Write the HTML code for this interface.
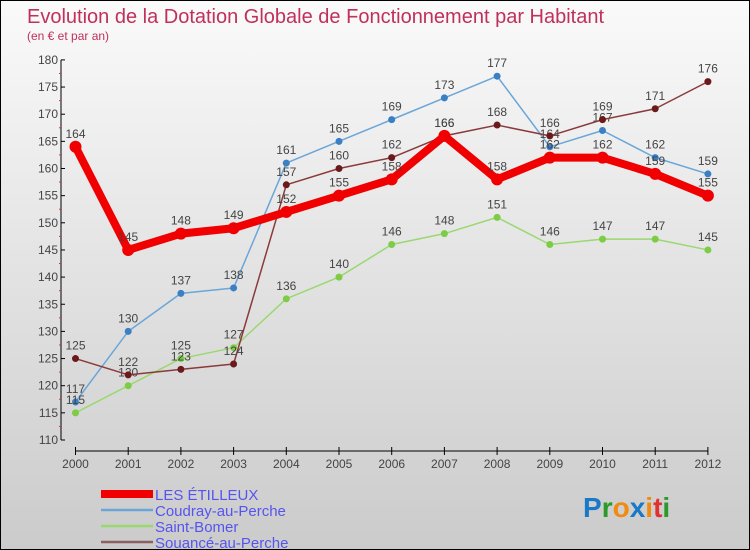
<!DOCTYPE html>
<html><head><meta charset="utf-8"><style>
body{margin:0}
#c{width:748px;height:548px;border:1px solid #000;background:linear-gradient(#fafafa,#cbcbcb);position:relative;font-family:"Liberation Sans",sans-serif;overflow:hidden}
</style></head><body>
<div id="c">
<svg id="s" width="748" height="548" xmlns="http://www.w3.org/2000/svg">
<text x="26" y="22" font-size="20" fill="#c0305a">Evolution de la Dotation Globale de Fonctionnement par Habitant</text>
<text x="26" y="39" font-size="12" fill="#c0305a">(en € et par an)</text>
</svg></div>
<script>
const years=["2000","2001","2002","2003","2004","2005","2006","2007","2008","2009","2010","2011","2012"];
const etilleux=[164,145,148,149,152,155,158,166,158,162,162,159,155];
const coudray=[117,130,137,138,161,165,169,173,177,164,167,162,159];
const bomer=[115,120,125,127,136,140,146,148,151,146,147,147,145];
const souance=[125,122,123,124,157,160,162,166,168,166,169,171,176];
const yTicks=[110,115,120,125,130,135,140,145,150,155,160,165,170,175,180];
const seriesNames=["LES ÉTILLEUX","Coudray-au-Perche","Saint-Bomer","Souancé-au-Perche"];
const NS="http://www.w3.org/2000/svg",s=document.getElementById('s');
const X=i=>74.5+i*52.7, Y=v=>439-(v-110)*5.43;
function el(t,a,p){const e=document.createElementNS(NS,t);for(const k in a)e.setAttribute(k,a[k]);(p||s).appendChild(e);return e;}
let ax=el('line',{x1:60,y1:Y(180),x2:60,y2:Y(110),stroke:'#000'});

yTicks.forEach(v=>{el('line',{x1:60,y1:Y(v),x2:64,y2:Y(v),stroke:'#000'});
if(v<180)el('line',{x1:58,y1:Y(v+2.5),x2:60,y2:Y(v+2.5),stroke:'#e03030'});
const t=el('text',{x:57,y:Y(v)+4,'font-size':12,'text-anchor':'end',fill:'#444'});t.textContent=v;
});
let xa=el('line',{x1:X(0),y1:450,x2:X(12),y2:450,stroke:'#000'});

years.forEach((y,i)=>{el('line',{x1:X(i),y1:446,x2:X(i),y2:454,stroke:'#000'});
const t=el('text',{x:X(i),y:467,'font-size':12,'text-anchor':'middle',fill:'#444'});t.textContent=y;
});
const defs=[[coudray,'#6aa6d8','#3b7fc4',1.5,3.5,'coudray'],[bomer,'#9ad870','#7ccc44',1.5,3.5,'saint-bomer'],[souance,'#8a3a3a','#6a1a1a',1.5,3.5,'souance'],[etilleux,'#f00000','#f00000',8,6,'les-etilleux']];
defs.forEach(([d,c,dc,w,r,n])=>{
const p=el('polyline',{points:d.map((v,i)=>X(i)+','+Y(v)).join(' '),fill:'none',stroke:c,'stroke-width':w,'stroke-linejoin':'round'});

d.forEach((v,i)=>{const m=el('circle',{cx:X(i),cy:Y(v),r:r,fill:dc});

const t=el('text',{x:X(i),y:Y(v)-9,'font-size':12,'text-anchor':'middle',fill:'#444'});t.textContent=v;
});});
const lc=[['#f00000',8],['#6aa6d8',2.5],['#9ad870',2.5],['#8a6060',2.5]];
seriesNames.forEach((nm,i)=>{const y=493+i*16;
const g=el('g',{});
el('line',{x1:100,y1:y,x2:152,y2:y,stroke:lc[i][0],'stroke-width':lc[i][1]},g);
const t=el('text',{x:154,y:y+6,'font-size':15,fill:'#5555ee'},g);t.textContent=nm;});
const px=el('text',{x:582,y:516,'font-size':28,'font-weight':'bold'});

[['P','#1a78c8'],['r','#2a9a2a'],['o','#f08a10'],['x','#1a78c8'],['i','#f08a10'],['t','#e03030'],['i','#2a9a2a']].forEach(([ch,c])=>{const sp=el('tspan',{fill:c},px);sp.textContent=ch;});
</script>
</body></html>
